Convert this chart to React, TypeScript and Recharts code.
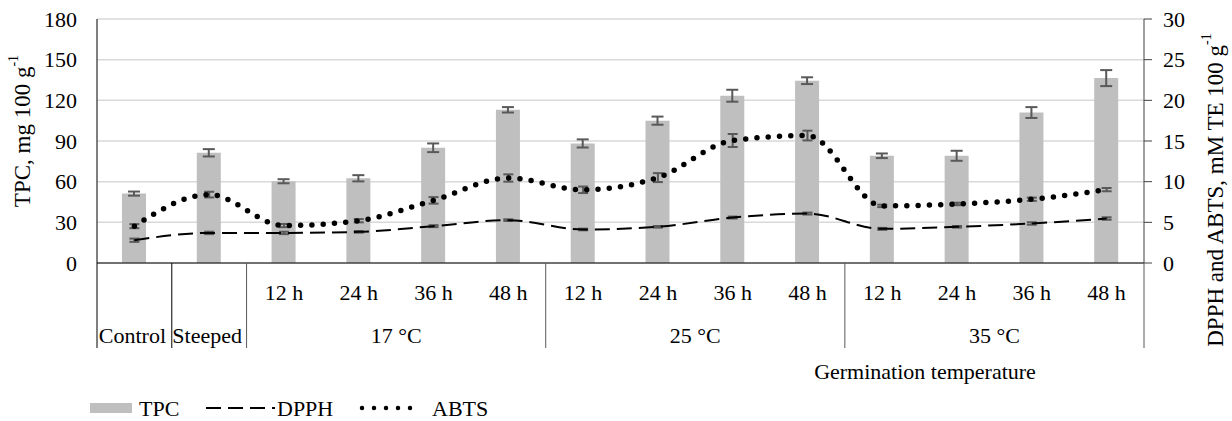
import { ComposedChart, Bar, Line, XAxis, YAxis, CartesianGrid, ErrorBar, Legend } from 'recharts';

const treatments = ['Control', 'Steeped', '17 °C', '17 °C', '17 °C', '17 °C', '25 °C', '25 °C', '25 °C', '25 °C', '35 °C', '35 °C', '35 °C', '35 °C'];
const hours = ['', '', '12 h', '24 h', '36 h', '48 h', '12 h', '24 h', '36 h', '48 h', '12 h', '24 h', '36 h', '48 h'];

const tpc = [51.2, 81.3, 60.3, 62.5, 85, 113, 88.2, 105, 123.4, 134.5, 79.1, 79.1, 111, 136.4];
const tpcErr = [1.5, 2.7, 1.5, 2.3, 3.2, 2, 3, 3, 4.4, 2.5, 1.7, 3.7, 4, 5.9];
const dpph = [2.8, 3.7, 3.7, 3.83, 4.53, 5.27, 4.12, 4.45, 5.59, 6.08, 4.2, 4.45, 4.86, 5.47];
const dpphErr = [0.2, 0.15, 0.15, 0.1, 0.12, 0.1, 0.1, 0.1, 0.12, 0.12, 0.12, 0.1, 0.15, 0.15];
const abts = [4.53, 8.41, 4.6, 5.2, 7.7, 10.45, 9.0, 10.5, 15.06, 15.67, 7.02, 7.26, 7.84, 9.02];
const abtsErr = [0.25, 0.35, 0.2, 0.2, 0.4, 0.45, 0.4, 0.55, 0.8, 0.6, 0.15, 0.15, 0.2, 0.2];

const leftTicks = [0, 30, 60, 90, 120, 150, 180];
const rightTicks = [0, 5, 10, 15, 20, 25, 30];

const FONT = 'Liberation Serif, Times New Roman, serif';
const BAR = '#bfbfbf';
const ERR = '#595959';

const data = treatments.map((t, i) => ({
  key: `${t}-${hours[i]}-${i}`,
  tpc: tpc[i],
  tpcErr: tpcErr[i],
  dpph: dpph[i],
  dpphErr: dpphErr[i],
  abts: abts[i],
  abtsErr: abtsErr[i],
}));

function CategoryTick(props: any) {
  const { x, y, payload, width, visibleTicksCount } = props;
  const i = payload.index;
  const half = payload.offset || (width && visibleTicksCount ? width / visibleTicksCount / 2 : 37.4);
  const left = x - half;
  const right = x + half;
  const startsGroup = i === 0 || treatments[i] !== treatments[i - 1];
  const groupLen = treatments.filter((t) => t === treatments[i]).length;
  const textProps = { fontFamily: FONT, fontSize: 22, fill: '#000', textAnchor: 'middle' as const };
  return (
    <g>
      {startsGroup && (
        <line x1={left} x2={left} y1={y} y2={y + 85} stroke={i < 2 ? '#000' : '#595959'} strokeWidth={1} />
      )}
      {i === treatments.length - 1 && <line x1={right} x2={right} y1={y} y2={y + 85} stroke="#595959" strokeWidth={1} />}
      {hours[i] ? (
        <text x={x} y={y + 37} {...textProps}>
          {hours[i]}
        </text>
      ) : (
        <text x={x - 2} y={y + 80} {...textProps}>
          {treatments[i]}
        </text>
      )}
      {hours[i] && startsGroup && (
        <text x={left + half * groupLen} y={y + 80} {...textProps}>
          {treatments[i]}
        </text>
      )}
    </g>
  );
}

function LeftLabel(props: any) {
  const { viewBox } = props;
  const cx = viewBox.x + 22;
  const cy = viewBox.y + viewBox.height / 2 - 10;
  return (
    <text x={cx} y={cy} transform={`rotate(-90 ${cx} ${cy})`} textAnchor="middle" dominantBaseline="central" fontFamily={FONT} fontSize={23} fill="#000">
      TPC, mg 100 g<tspan dy={-9} fontSize={14}>-1</tspan>
    </text>
  );
}

function RightLabel(props: any) {
  const { viewBox } = props;
  const cx = viewBox.x + 71;
  const cy = viewBox.y + viewBox.height / 2 + 49;
  return (
    <text x={cx} y={cy} transform={`rotate(-90 ${cx} ${cy})`} textAnchor="middle" dominantBaseline="central" fontFamily={FONT} fontSize={23} fill="#000">
      DPPH and ABTS, mM TE 100 g<tspan dy={-9} fontSize={14}>-1</tspan>
    </text>
  );
}

function XTitle(props: any) {
  const { viewBox } = props;
  return (
    <text x={viewBox.x + viewBox.width - 219} y={viewBox.y + 116} textAnchor="middle" fontFamily={FONT} fontSize={22} fill="#000">
      Germination temperature
    </text>
  );
}

function LegendContent() {
  const t = { fontFamily: FONT, fontSize: 22, fill: '#000' };
  return (
    <svg width={520} height={24} style={{ display: 'block' }}>
      <rect x={90} y={6} width={42} height={10} fill={BAR} />
      <text x={139} y={19} {...t}>TPC</text>
      <line x1={206} x2={275} y1={11} y2={11} stroke="#000" strokeWidth={2} strokeDasharray="15 7" />
      <text x={277} y={19} {...t}>DPPH</text>
      <line x1={362} x2={422} y1={11} y2={11} stroke="#000" strokeWidth={4.5} strokeLinecap="round" strokeDasharray="0 12" />
      <text x={432} y={19} {...t}>ABTS</text>
    </svg>
  );
}

export default function App() {
  return (
    <div style={{ position: 'absolute', left: 0, top: 0, width: 1232, height: 421, background: '#fff', fontFamily: FONT }}>
      <ComposedChart width={1232} height={421} data={data} margin={{ top: 19, right: 0, left: 0, bottom: 0 }}>
        <CartesianGrid yAxisId="left" vertical={false} stroke="#d9d9d9" strokeWidth={1.5} />
        <XAxis
          dataKey="key"
          interval={0}
          height={134}
          tickLine={false}
          tickSize={0}
          tickMargin={0}
          axisLine={{ stroke: '#000', strokeWidth: 1 }}
          tick={<CategoryTick />}
          label={<XTitle />}
        />
        <YAxis
          yAxisId="left"
          width={97}
          domain={[0, 180]}
          ticks={leftTicks}
          allowDataOverflow
          tickLine={false}
          tickSize={8}
          tickMargin={12}
          axisLine={{ stroke: '#000', strokeWidth: 1 }}
          tick={{ fontSize: 22, fill: '#000', fontFamily: FONT }}
          label={<LeftLabel />}
        />
        <YAxis
          yAxisId="right"
          orientation="right"
          width={88}
          domain={[0, 30]}
          ticks={rightTicks}
          allowDataOverflow
          tickSize={8}
          tickMargin={11}
          tickLine={{ stroke: '#404040' }}
          axisLine={{ stroke: '#404040', strokeWidth: 1 }}
          tick={{ fontSize: 22, fill: '#000', fontFamily: FONT }}
          label={<RightLabel />}
        />
        <Legend verticalAlign="bottom" align="left" content={<LegendContent />} wrapperStyle={{ left: 0, bottom: 0, width: 520, height: 24 }} />
        <Bar yAxisId="left" dataKey="tpc" fill={BAR} barSize={24} isAnimationActive={false}>
          <ErrorBar dataKey="tpcErr" width={6} stroke={ERR} strokeWidth={2} />
        </Bar>
        <Line
          yAxisId="right"
          type="monotone"
          dataKey="dpph"
          stroke="#000"
          strokeWidth={2}
          strokeDasharray="15 7"
          dot={false}
          activeDot={false}
          isAnimationActive={false}
        >
          <ErrorBar dataKey="dpphErr" width={5} stroke={ERR} strokeWidth={2} />
        </Line>
        <Line
          yAxisId="right"
          type="monotone"
          dataKey="abts"
          stroke="#000"
          strokeWidth={5.5}
          strokeLinecap="round"
          strokeDasharray="0 11.3"
          dot={false}
          activeDot={false}
          isAnimationActive={false}
        >
          <ErrorBar dataKey="abtsErr" width={5} stroke={ERR} strokeWidth={2} />
        </Line>
      </ComposedChart>
    </div>
  );
}
